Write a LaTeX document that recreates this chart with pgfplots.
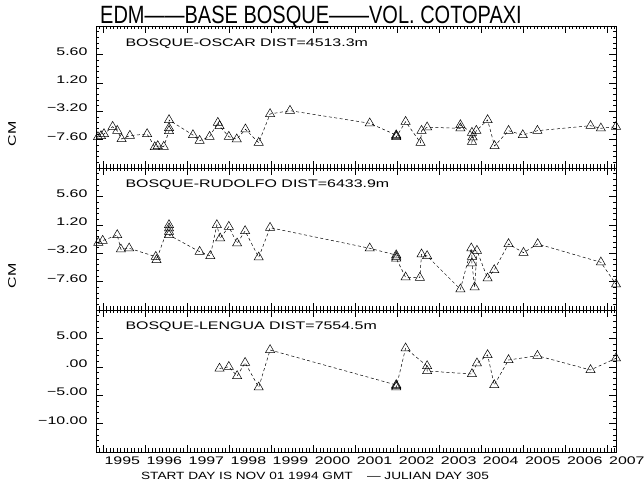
\documentclass[border=0pt]{standalone}
\usepackage{pgfplots}
\pgfplotsset{compat=1.18}
\usepackage{fontspec}
\setmainfont{Liberation Sans}
\newfontfamily\idl[FakeStretch=1.45]{Liberation Sans}
\newfontfamily\idlc[FakeStretch=1.3]{Liberation Sans}
\newfontfamily\idltitle[FakeStretch=0.80]{Liberation Sans}

\pgfplotstableread{
x y
1994.880 -7.20
1994.952 -7.04
1995.023 -6.73
1995.229 -5.60
1995.338 -6.22
1995.442 -7.51
1995.639 -6.99
1996.049 -6.73
1996.231 -8.75
1996.302 -8.59
1996.444 -8.70
1996.570 -6.27
1996.570 -5.80
1996.570 -4.56
1997.139 -6.89
1997.298 -7.77
1997.535 -7.15
1997.731 -4.98
1997.771 -5.49
1997.992 -7.15
1998.181 -7.55
1998.387 -6.00
1998.703 -8.08
1998.973 -3.63
1999.447 -3.12
2001.343 -5.07
2001.973 -6.90
2001.973 -7.04
2001.973 -7.20
2002.196 -4.83
2002.551 -8.08
2002.575 -6.22
2002.708 -5.69
2003.499 -5.85
2003.499 -5.34
2003.774 -6.53
2003.790 -7.24
2003.774 -7.93
2003.878 -6.22
2004.146 -4.56
2004.312 -8.59
2004.644 -6.22
2004.983 -6.89
2005.331 -6.22
2006.594 -5.45
2006.840 -5.85
2007.200 -5.60
}\oscar

\pgfplotstableread{
x y
1994.888 -1.57
1994.992 -1.26
1995.338 -0.38
1995.425 -2.60
1995.622 -2.44
1996.255 -3.74
1996.271 -4.25
1996.570 1.17
1996.570 0.66
1996.570 0.13
1996.570 -0.38
1997.298 -2.97
1997.551 -3.63
1997.707 1.17
1997.786 -0.89
1997.992 0.91
1998.189 -1.67
1998.379 0.24
1998.703 -3.84
1998.973 0.75
2001.343 -2.44
2001.973 -3.50
2001.973 -3.74
2001.973 -4.00
2002.196 -6.93
2002.535 -6.99
2002.575 -3.37
2002.708 -3.63
2003.499 -8.79
2003.758 -2.44
2003.774 -3.74
2003.774 -4.76
2003.838 -8.48
2003.893 -2.81
2004.146 -7.09
2004.304 -5.80
2004.644 -1.77
2005.000 -3.12
2005.338 -1.77
2006.840 -4.61
2007.200 -8.02
}\rudolfo

\pgfplotstableread{
x y
1997.771 -0.30
1997.992 0.00
1998.189 -1.62
1998.379 0.72
1998.703 -3.61
1998.973 2.96
2001.973 -3.20
2001.973 -3.38
2001.973 -3.60
2002.196 3.26
2002.708 0.14
2002.708 -0.74
2003.774 -1.27
2003.893 0.62
2004.146 2.08
2004.304 -3.20
2004.644 1.20
2005.331 1.95
2006.594 -0.56
2007.200 1.50
}\lengua

\pgfplotsset{
  panel/.style={
    scale only axis, width=520pt, height=142pt,
    anchor=south west,
    xmin=1994.8333, xmax=2007.2,
    xtick={1995,1996,...,2007},
    minor xtick={1994.91667,1995,...,2007.2},
    minor y tick num=4,
    major tick length=7pt, minor tick length=3.5pt,
    every tick/.style={black, line width=0.5pt},
    axis line style={line width=0.6pt},
    clip=false,
    ticklabel style={font=\idl\fontsize{11}{12}\selectfont},
    yticklabel style={xshift=-5pt, yshift=3pt},
    xticklabel style={anchor=north west, xshift=-2pt, yshift=-1pt},
    xticklabels={},
    ylabel style={font=\idl\fontsize{11}{12}\selectfont, at={(axis description cs:-0.1615,0.24)}, anchor=center},
  },
  ser/.style={black, line width=0.5pt, dash pattern=on 3pt off 2.5pt,
    mark=triangle, mark size=5.3pt, mark options={solid, line width=0.5pt}},
}

\begin{document}
\begin{tikzpicture}
\path[use as bounding box] (0,0) rectangle (644pt,486pt);

\begin{axis}[panel, at={(96pt,318pt)},
  ymin=-12, ymax=10,
  ytick={-12,-7.6,-3.2,1.2,5.6,10},
  yticklabels={,−7.60,−3.20,1.20,5.60,},
  ylabel={CM}]
\addplot[ser] table[x=x,y=y] {\oscar};
\node[anchor=west, font=\idl\fontsize{11}{12}\selectfont] at (axis description cs:0.05,0.873) {BOSQUE-OSCAR DIST=4513.3m};
\end{axis}

\begin{axis}[panel, at={(96pt,176pt)},
  ymin=-12, ymax=10,
  ytick={-12,-7.6,-3.2,1.2,5.6,10},
  yticklabels={,−7.60,−3.20,1.20,5.60,},
  ylabel={CM}]
\addplot[ser] table[x=x,y=y] {\rudolfo};
\node[anchor=west, font=\idl\fontsize{11}{12}\selectfont] at (axis description cs:0.05,0.88) {BOSQUE-RUDOLFO DIST=6433.9m};
\end{axis}

\begin{axis}[panel, at={(96pt,34pt)},
  ymin=-15, ymax=10,
  ytick={-15,-10,-5,0,5,10},
  yticklabels={,−10.00,−5.00,.00,5.00,},
  xticklabels={1995,1996,1997,1998,1999,2000,2001,2002,2003,2004,2005,2006,2007}]
\addplot[ser] table[x=x,y=y] {\lengua};
\node[anchor=west, font=\idl\fontsize{11}{12}\selectfont] at (axis description cs:0.05,0.88) {BOSQUE-LENGUA DIST=7554.5m};
\end{axis}

\node[anchor=north west, inner sep=0pt, font=\idltitle\fontsize{25}{28}\selectfont] at (100pt,480pt) {EDM\textemdash\textemdash BASE BOSQUE\textemdash\textemdash VOL. COTOPAXI};
\node[anchor=center, inner sep=0pt, font=\idlc\fontsize{10.5}{12}\selectfont] at (315pt,10pt) {START DAY IS NOV 01 1994 GMT \quad\textemdash\ JULIAN DAY 305};
\end{tikzpicture}
\end{document}
